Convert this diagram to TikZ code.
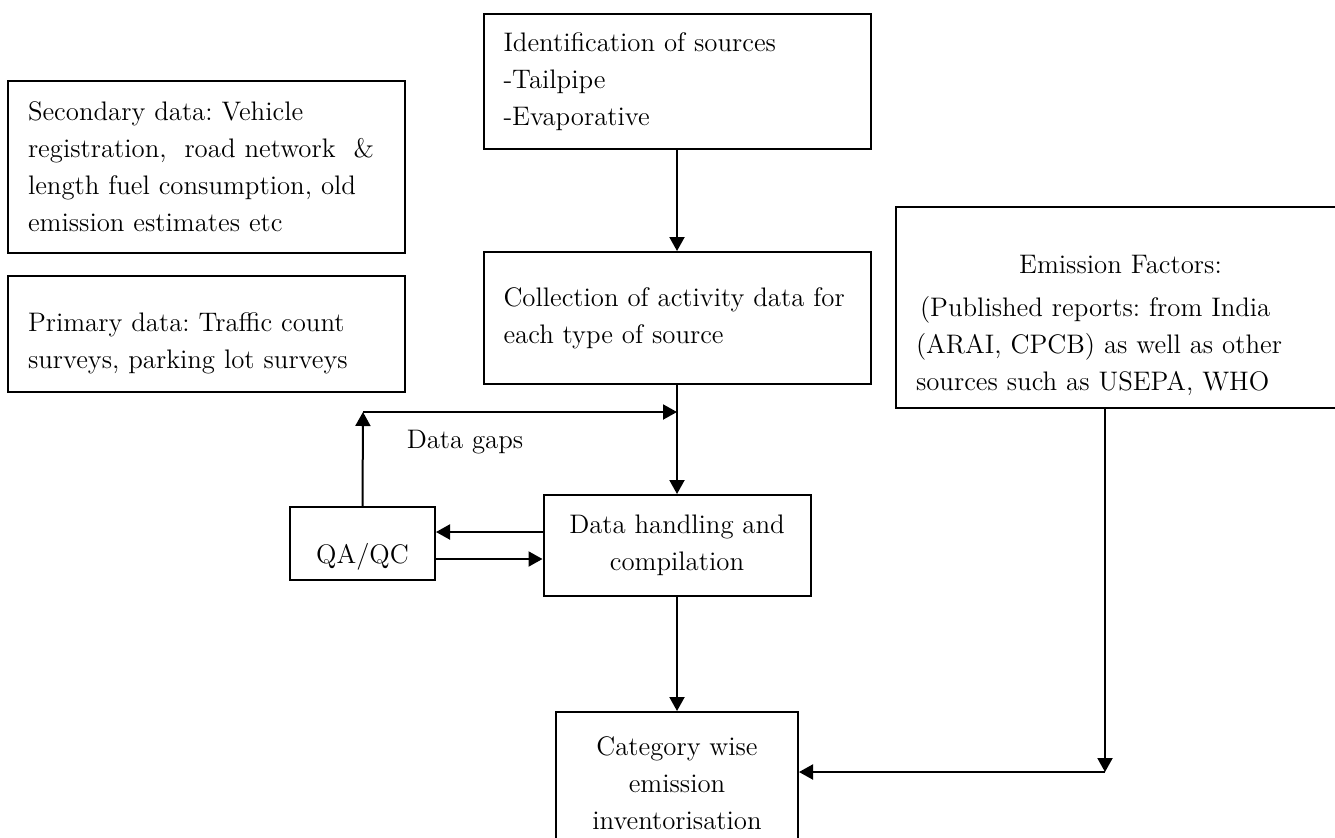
\documentclass[tikz,border=0pt]{standalone}
\usepackage{fontspec}
\usetikzlibrary{arrows.meta}
\frenchspacing
\tikzset{
    box/.style={draw,inner xsep=10pt,inner ysep=2pt},
    lbox/.style={box,align=left},
    cbox/.style={box,align=center},
}
\begin{document}
\begin{tikzpicture}[>={Triangle[length=7pt,width=7.5pt]},x=0.5pt,y=-0.5pt,line width=1pt,font=\fontsize{13.4pt}{18.5pt}\selectfont]
    \useasboundingbox (0,0) rectangle (1335,837);
    % boxes (centre in px, 1px = 0.5pt)
    \node[lbox,text width=178.5pt,minimum height=86pt] (sec) at (206.5,167) {Secondary data: Vehicle\\registration,~ road network~ \&\\length fuel consumption, old\\emission estimates etc};
    \node[lbox,text width=178.5pt,minimum height=58pt] (prim) at (206.5,334) {\rule{0pt}{19pt}Primary data: Traffic count\\surveys, parking lot surveys};
    \node[lbox,text width=173.5pt,minimum height=67.5pt] (ident) at (677,81.5) {Identification of sources\\-Tailpipe\\-Evaporative};
    \node[lbox,text width=173.5pt,minimum height=66pt] (coll) at (677,318) {Collection of activity data for\\each type of source};
    \node[lbox,text width=204.5pt,minimum height=100.5pt] (ef) at (1120.5,307.5) {\rule{0pt}{27pt}\hfill Emission Factors:\hfill\mbox{}\\[3pt]\hspace*{2pt}(Published reports: from India\\(ARAI, CPCB) as well as other\\sources such as USEPA, WHO};
    \node[cbox,minimum width=133.5pt,minimum height=50.5pt] (dh) at (677,545.5) {Data handling and\\compilation};
    \node[cbox,minimum width=72.5pt,minimum height=36.5pt,text height=23pt] (qa) at (362.5,543.5) {QA/QC};
    \node[cbox,minimum width=121pt,minimum height=71.5pt] (cat) at (677,783.5) {Category wise\\emission\\inventorisation};
    \node (gaps) at (465,442) {Data gaps};
    % connectors
    \draw[->] (ident)--(coll);
    \draw[->] (coll)--(dh);
    \draw[->] (dh)--(cat);
    \coordinate (gapL) at (363,412);
    \coordinate (gapR) at (677,412);
    \draw[->] (qa.north)--(gapL);
    \draw[->] (gapL)--(gapR);
    \coordinate (qdTop) at ([yshift=6.75pt]dh.west);
    \coordinate (qdBot) at ([yshift=-6.75pt]dh.west);
    \draw[->] (qdTop)--(qdTop-|qa.east);
    \draw[->] (qdBot-|qa.east)--(qdBot);
    \coordinate (efc) at (1105,772);
    \draw[->] (ef.south-|efc)--(efc);
    \draw[->] (efc)--(efc-|cat.east);
\end{tikzpicture}
\end{document}
